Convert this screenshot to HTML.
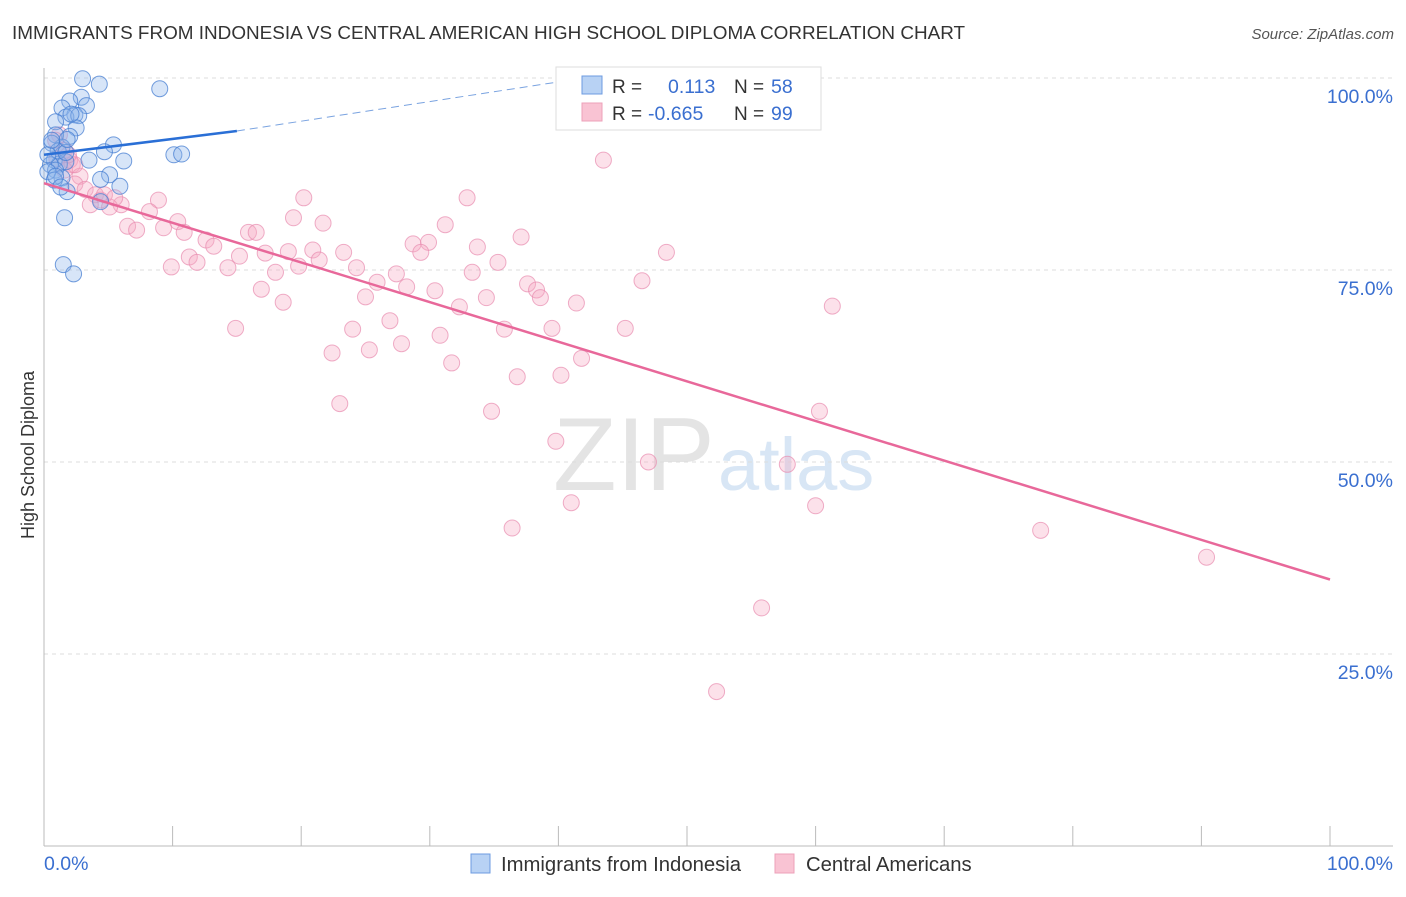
<!DOCTYPE html>
<html><head><meta charset="utf-8">
<style>
body{margin:0;background:#fff;font-family:"Liberation Sans",sans-serif;}
svg text{font-family:"Liberation Sans",sans-serif;}
</style></head>
<body>
<svg id="chart" width="1406" height="892" xmlns="http://www.w3.org/2000/svg">
<text x="12" y="39" font-size="18.9" fill="#333">IMMIGRANTS FROM INDONESIA VS CENTRAL AMERICAN HIGH SCHOOL DIPLOMA CORRELATION CHART</text>
<text x="1394" y="39" font-size="15" fill="#555" font-style="italic" text-anchor="end">Source: ZipAtlas.com</text>
<text x="553" y="490" font-size="104" fill="#e4e4e4" font-family="Liberation Serif">ZIP</text>
<text x="718" y="490" font-size="74" fill="#d8e6f5">atlas</text>
<g id="grid"></g>
<g id="axes"></g>
<g id="pts"></g>
<g id="trend"></g>
<text transform="translate(34,455) rotate(-90)" font-size="18" fill="#333" text-anchor="middle">High School Diploma</text>
<g>
<rect x="556" y="67" width="265" height="63" fill="#fff" stroke="#ddd"/>
<rect x="582" y="76" width="20" height="18" fill="#b8d2f4" stroke="#6d9be0"/>
<rect x="582" y="103" width="20" height="18" fill="#f9c3d3" stroke="#eda0ba"/>
<text x="612" y="93" font-size="19" fill="#333">R = </text><text x="668" y="93" font-size="19.5" fill="#3a6fd0">0.113</text>
<text x="734" y="93" font-size="19" fill="#333">N = </text><text x="771" y="93" font-size="19.5" fill="#3a6fd0">58</text>
<text x="612" y="120" font-size="19" fill="#333">R = </text><text x="648" y="120" font-size="19.5" fill="#3a6fd0">-0.665</text>
<text x="734" y="120" font-size="19" fill="#333">N = </text><text x="771" y="120" font-size="19.5" fill="#3a6fd0">99</text>
</g>
<g>
<rect x="471" y="854" width="19" height="19" fill="#b8d2f4" stroke="#6d9be0"/>
<text x="501" y="871" font-size="20.3" fill="#333">Immigrants from Indonesia</text>
<rect x="775" y="854" width="19" height="19" fill="#f9c3d3" stroke="#eda0ba"/>
<text x="806" y="871" font-size="20.3" fill="#333">Central Americans</text>
</g>
</svg>
<script>
const yTicks=[25,50,75,100];
const yTickLabels=["25.0%","50.0%","75.0%","100.0%"];
const xTicks=[0,10,20,30,40,50,60,70,80,90,100];
const blueX=[3.0,4.3,9.0,2.9,2.0,3.3,1.4,2.4,1.7,2.7,0.9,2.5,2.0,0.9,5.4,1.4,4.7,10.1,10.7,3.5,6.2,0.8,1.2,1.7,0.5,0.9,0.3,5.1,4.4,1.4,0.8,5.9,1.8,4.4,1.6,1.5,2.3,0.6,1.1,1.7,0.3,0.9,1.3,0.6,1.8,2.1];
const blueY=[99.9,99.2,98.6,97.5,97.0,96.4,96.1,95.2,94.9,95.1,94.3,93.5,92.4,92.6,91.3,91.0,90.4,90.0,90.1,89.3,89.2,89.3,88.8,89.1,88.7,88.0,87.8,87.4,86.8,87.0,86.7,85.9,85.2,83.9,81.8,75.7,74.5,91.5,90.5,90.3,90.0,87.2,85.8,91.9,92.0,95.3];
const pinkX=[43.5,32.9,20.2,8.9,6.0,8.2,19.4,21.7,31.2,10.4,9.3,6.5,7.2,10.9,15.9,16.5,12.6,13.2,37.1,28.7,29.9,29.3,33.7,48.4,19.0,20.9,23.3,17.2,15.2,11.3,11.9,21.4,35.3,9.9,14.3,18.0,19.8,24.3,33.3,27.4,46.5,25.9,28.2,16.9,37.6,38.3,25.0,30.4,34.4,38.6,41.4,32.3,61.3,18.6,26.9,14.9,24.0,35.8,39.5,45.2,30.8,27.8,22.4,25.3,41.8,31.7,36.8,40.2,23.0,34.8,60.3,39.8,47.0,57.8,41.0,60.0,36.4,77.5,90.4,55.8,52.3,1.2,1.6,2.0,2.2,2.8,2.4,3.2,4.0,4.4,5.1,4.7,5.5,1.6,2.4,3.6,0.9,1.0,1.9];
const pinkY=[89.3,84.4,84.4,84.1,83.5,82.6,81.8,81.1,80.9,81.3,80.5,80.7,80.2,79.9,79.9,79.9,78.9,78.1,79.3,78.4,78.6,77.3,78.0,77.3,77.4,77.6,77.3,77.2,76.8,76.7,76.0,76.3,76.0,75.4,75.3,74.7,75.5,75.3,74.7,74.5,73.6,73.4,72.8,72.5,73.2,72.4,71.5,72.3,71.4,71.4,70.7,70.2,70.3,70.8,68.4,67.4,67.3,67.3,67.4,67.4,66.5,65.4,64.2,64.6,63.5,62.9,61.1,61.3,57.6,56.6,56.6,52.7,50.0,49.7,44.7,44.3,41.4,41.1,37.6,31.0,20.1,92.6,90.6,89.3,88.7,87.2,86.2,85.5,84.8,84.1,83.2,84.8,84.4,88.0,88.7,83.5,91.9,89.5,90.0];
const blueTrendX=[0,15,42];
const blueTrendY=[90.0,93.1,100];
const pinkTrendX=[0,100];
const pinkTrendY=[86.3,34.7];
const NS="http://www.w3.org/2000/svg";
const sx=v=>44+v*12.86;
const sy=v=>846-v*7.68;
function mk(tag,attrs,parent){const e=document.createElementNS(NS,tag);for(const k in attrs)e.setAttribute(k,attrs[k]);document.getElementById(parent).appendChild(e);return e;}
yTicks.forEach((t,i)=>{
 const g=mk('line',{x1:44,x2:1393,y1:sy(t),y2:sy(t),stroke:'#ddd','stroke-dasharray':'4,4'},'grid');
 
 
 const l=mk('text',{x:1393,y:sy(t)+25,'font-size':19.5,fill:'#3a6fd0','text-anchor':'end'},'grid');
 l.textContent=yTickLabels[i];
 
 
});
const ax=mk('line',{x1:44,x2:44,y1:68,y2:846,stroke:'#bbb'},'axes');


const bx=mk('line',{x1:44,x2:1393,y1:846,y2:846,stroke:'#bbb'},'axes');


xTicks.forEach(t=>{
 const k=mk('line',{x1:sx(t),x2:sx(t),y1:826,y2:846,stroke:'#bbb'},'axes');
 
 
});
const xl0=mk('text',{x:44,y:870,'font-size':19.5,fill:'#3a6fd0'},'axes');xl0.textContent="0.0%";


const xl1=mk('text',{x:1393,y:870,'font-size':19.5,fill:'#3a6fd0','text-anchor':'end'},'axes');xl1.textContent="100.0%";


pinkX.forEach((x,i)=>{
 const c=mk('circle',{cx:sx(x),cy:sy(pinkY[i]),r:8,fill:'rgba(246,170,196,0.35)',stroke:'rgba(232,140,175,0.7)','stroke-width':1},'pts');
 
 
});
blueX.forEach((x,i)=>{
 const c=mk('circle',{cx:sx(x),cy:sy(blueY[i]),r:8,fill:'rgba(140,180,235,0.35)',stroke:'rgba(70,125,210,0.75)','stroke-width':1},'pts');
 
 
});
const pl=mk('line',{x1:sx(pinkTrendX[0]),y1:sy(pinkTrendY[0]),x2:sx(pinkTrendX[1]),y2:sy(pinkTrendY[1]),stroke:'#e8689a','stroke-width':2.5},'trend');


const bl=mk('line',{x1:sx(blueTrendX[0]),y1:sy(blueTrendY[0]),x2:sx(blueTrendX[1]),y2:sy(blueTrendY[1]),stroke:'#2a6fd6','stroke-width':2.5},'trend');


const bd=mk('line',{x1:sx(blueTrendX[1]),y1:sy(blueTrendY[1]),x2:sx(blueTrendX[2]),y2:sy(blueTrendY[2]),stroke:'#7aa3e0','stroke-width':1,'stroke-dasharray':'8,5'},'trend');


</script>
</body></html>
